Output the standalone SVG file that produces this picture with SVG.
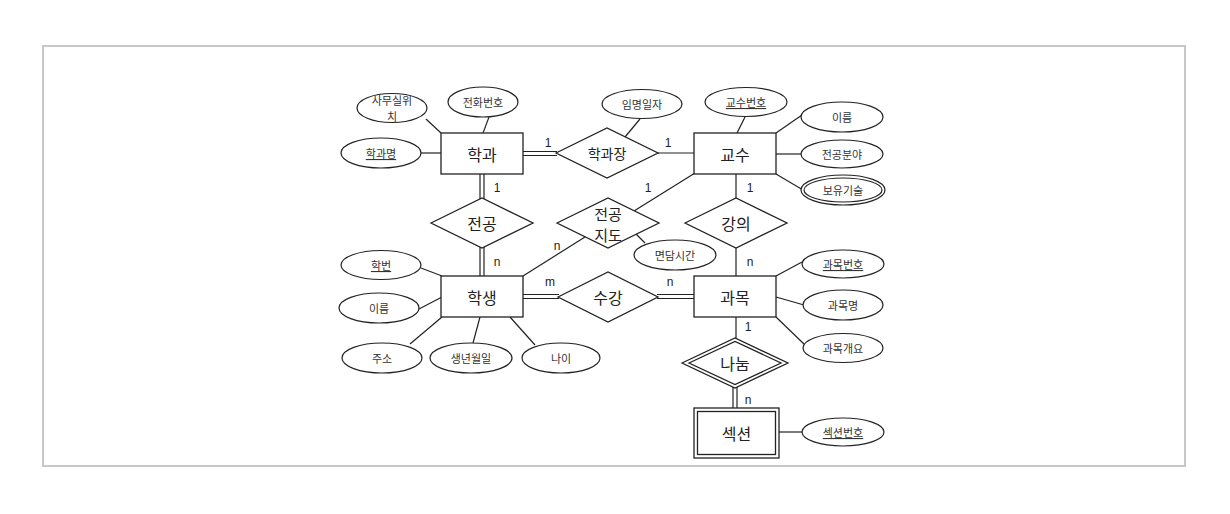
<svg xmlns="http://www.w3.org/2000/svg" width="1230" height="514" viewBox="0 0 1230 514">
<style>
.ent{fill:#fff;stroke:#222;stroke-width:1.3}
.rel{fill:#fff;stroke:#222;stroke-width:1.3}
.att{fill:#fff;stroke:#222;stroke-width:1.2}
.ln{stroke:#222;stroke-width:1.2;fill:none}
.t1{font-family:"Noto Sans CJK KR","Noto Sans",sans-serif;font-size:16px;fill:#222;text-anchor:middle;dominant-baseline:central}
.t2{font-family:"Noto Sans CJK KR","Noto Sans",sans-serif;font-size:11px;fill:#333;text-anchor:middle;dominant-baseline:central}
.t3{font-family:"Noto Sans CJK KR","Noto Sans",sans-serif;font-size:14px;fill:#222;text-anchor:middle;dominant-baseline:central}
.t4{font-family:"Noto Sans CJK KR","Noto Sans",sans-serif;font-size:15px;fill:#222;text-anchor:middle;dominant-baseline:central}
.c{font-family:"Liberation Sans",Arial,sans-serif;font-size:12px;fill:#222;text-anchor:middle;dominant-baseline:central}
.u{text-decoration:underline}
</style>
<rect x="0" y="0" width="1230" height="514" fill="#fff"/>
<rect x="43" y="46" width="1142" height="420" fill="#fff" stroke="#c8c8c8" stroke-width="2"/>
<g id="connectors">
<line class="ln" x1="421" y1="153" x2="441" y2="153"/>
<line class="ln" x1="426" y1="119" x2="441" y2="133"/>
<line class="ln" x1="489" y1="117" x2="483" y2="133"/>
<line class="ln" x1="523" y1="151.5" x2="557" y2="151.5"/>
<line class="ln" x1="523" y1="155.5" x2="557" y2="155.5"/>
<line class="ln" x1="640" y1="119" x2="625" y2="137"/>
<line class="ln" x1="658" y1="153" x2="694" y2="153"/>
<line class="ln" x1="745" y1="117" x2="737" y2="133"/>
<line class="ln" x1="776" y1="133" x2="802" y2="115"/>
<line class="ln" x1="776" y1="154" x2="801" y2="154"/>
<line class="ln" x1="776" y1="174" x2="803" y2="190"/>
<line class="ln" x1="736" y1="174" x2="736" y2="198"/>
<line class="ln" x1="695" y1="173" x2="634" y2="211"/>
<line class="ln" x1="480" y1="174" x2="480" y2="199"/>
<line class="ln" x1="484" y1="174" x2="484" y2="199"/>
<line class="ln" x1="480" y1="247" x2="480" y2="276"/>
<line class="ln" x1="484" y1="247" x2="484" y2="276"/>
<line class="ln" x1="523" y1="276" x2="585" y2="237"/>
<line class="ln" x1="635" y1="233" x2="645" y2="243"/>
<line class="ln" x1="523" y1="294.5" x2="559" y2="294.5"/>
<line class="ln" x1="523" y1="298.5" x2="559" y2="298.5"/>
<line class="ln" x1="657" y1="294.5" x2="694" y2="294.5"/>
<line class="ln" x1="657" y1="298.5" x2="694" y2="298.5"/>
<line class="ln" x1="736" y1="248" x2="736" y2="276"/>
<line class="ln" x1="776" y1="276" x2="802" y2="262"/>
<line class="ln" x1="776" y1="297" x2="804" y2="305"/>
<line class="ln" x1="776" y1="317" x2="805" y2="345"/>
<line class="ln" x1="736" y1="317" x2="736" y2="338"/>
<line class="ln" x1="733" y1="386" x2="733" y2="408"/>
<line class="ln" x1="737" y1="386" x2="737" y2="408"/>
<line class="ln" x1="779" y1="432" x2="802" y2="432"/>
<line class="ln" x1="421" y1="268" x2="442" y2="276"/>
<line class="ln" x1="419" y1="309" x2="442" y2="297"/>
<line class="ln" x1="410" y1="344" x2="442" y2="317"/>
<line class="ln" x1="473" y1="343" x2="480" y2="317"/>
<line class="ln" x1="535" y1="345" x2="510" y2="317"/>
</g>
<g id="cardinalities">
<text class="c" x="548" y="143">1</text>
<text class="c" x="668" y="143">1</text>
<text class="c" x="497" y="188">1</text>
<text class="c" x="648" y="188">1</text>
<text class="c" x="750" y="188">1</text>
<text class="c" x="497" y="262">n</text>
<text class="c" x="557" y="246">n</text>
<text class="c" x="750" y="262">n</text>
<text class="c" x="550" y="282">m</text>
<text class="c" x="670" y="282">n</text>
<text class="c" x="748" y="327">1</text>
<text class="c" x="748" y="400">n</text>
</g>
<g id="dept">
<rect class="ent" x="441" y="133" width="82" height="41"/>
<text class="t1" x="482" y="153.5">학과</text>
</g>
<g id="dept-office">
<ellipse class="att" cx="392" cy="108" rx="35" ry="14.5"/>
<text class="t2" x="392" y="100">사무실위</text>
<text class="t2" x="392" y="115.5">치</text>
</g>
<g id="dept-phone">
<ellipse class="att" cx="483" cy="102" rx="35" ry="15"/>
<text class="t2" x="483" y="102">전화번호</text>
</g>
<g id="dept-name">
<ellipse class="att" cx="381" cy="153" rx="40" ry="15"/>
<text class="t2 u" x="381" y="153">학과명</text>
</g>
<g id="head">
<polygon class="rel" points="556,153 607,128 658,153 607,178"/>
<text class="t3" x="607" y="153">학과장</text>
</g>
<g id="appoint-date">
<ellipse class="att" cx="642" cy="104" rx="40" ry="14.5"/>
<text class="t2" x="642" y="104">임명일자</text>
</g>
<g id="prof">
<rect class="ent" x="694" y="133" width="82" height="41"/>
<text class="t1" x="735" y="153.5">교수</text>
</g>
<g id="prof-no">
<ellipse class="att" cx="746" cy="102" rx="41" ry="14.5"/>
<text class="t2 u" x="746" y="102">교수번호</text>
</g>
<g id="prof-name">
<ellipse class="att" cx="842" cy="117" rx="41" ry="15"/>
<text class="t2" x="842" y="117">이름</text>
</g>
<g id="prof-field">
<ellipse class="att" cx="842" cy="154" rx="41" ry="14"/>
<text class="t2" x="842" y="154">전공분야</text>
</g>
<g id="prof-skill">
<ellipse class="att" cx="843" cy="190" rx="42" ry="15"/>
<ellipse class="att" cx="843" cy="190" rx="39" ry="12"/>
<text class="t2" x="843" y="190">보유기술</text>
</g>
<g id="major">
<polygon class="rel" points="431,223 482,198 533,223 482,248"/>
<text class="t1" x="482" y="223">전공</text>
</g>
<g id="advise">
<polygon class="rel" points="557,223 608,198 659,223 608,248"/>
<text class="t4" x="608" y="213">전공</text>
<text class="t4" x="608" y="234">지도</text>
</g>
<g id="meeting-time">
<ellipse class="att" cx="675" cy="255" rx="41" ry="15"/>
<text class="t2" x="675" y="255">면담시간</text>
</g>
<g id="lecture">
<polygon class="rel" points="685,223 736,198 787,223 736,248"/>
<text class="t1" x="736" y="223">강의</text>
</g>
<g id="student">
<rect class="ent" x="441" y="276" width="82" height="41"/>
<text class="t1" x="482" y="296.5">학생</text>
</g>
<g id="stu-no">
<ellipse class="att" cx="381" cy="265" rx="40" ry="14.5"/>
<text class="t2 u" x="381" y="265">학번</text>
</g>
<g id="stu-name">
<ellipse class="att" cx="379" cy="308" rx="40" ry="15"/>
<text class="t2" x="379" y="308">이름</text>
</g>
<g id="stu-addr">
<ellipse class="att" cx="382" cy="358" rx="40" ry="15"/>
<text class="t2" x="382" y="358">주소</text>
</g>
<g id="stu-birth">
<ellipse class="att" cx="471" cy="358" rx="41" ry="15"/>
<text class="t2" x="471" y="358">생년월일</text>
</g>
<g id="stu-age">
<ellipse class="att" cx="561" cy="358" rx="39" ry="15"/>
<text class="t2" x="561" y="358">나이</text>
</g>
<g id="enroll">
<polygon class="rel" points="558,297 608,272 658,297 608,322"/>
<text class="t1" x="608" y="297">수강</text>
</g>
<g id="course">
<rect class="ent" x="694" y="276" width="82" height="41"/>
<text class="t1" x="735" y="296.5">과목</text>
</g>
<g id="course-no">
<ellipse class="att" cx="843" cy="264" rx="41" ry="14"/>
<text class="t2 u" x="843" y="264">과목번호</text>
</g>
<g id="course-name">
<ellipse class="att" cx="843" cy="305" rx="40" ry="15"/>
<text class="t2" x="843" y="305">과목명</text>
</g>
<g id="course-summary">
<ellipse class="att" cx="843" cy="348" rx="40" ry="14.5"/>
<text class="t2" x="843" y="348">과목개요</text>
</g>
<g id="divide">
<polygon class="rel" points="682,363 735,338 788,363 735,388"/>
<polygon class="rel" points="689,363 735,341.5 781,363 735,384.5"/>
<text class="t1" x="735" y="363">나눔</text>
</g>
<g id="section">
<rect class="ent" x="694" y="408" width="85" height="50"/>
<rect class="ent" x="697.5" y="411.5" width="78" height="43"/>
<text class="t1" x="736.5" y="433">섹션</text>
</g>
<g id="section-no">
<ellipse class="att" cx="843" cy="432" rx="41" ry="14"/>
<text class="t2 u" x="843" y="432">섹션번호</text>
</g>
</svg>
